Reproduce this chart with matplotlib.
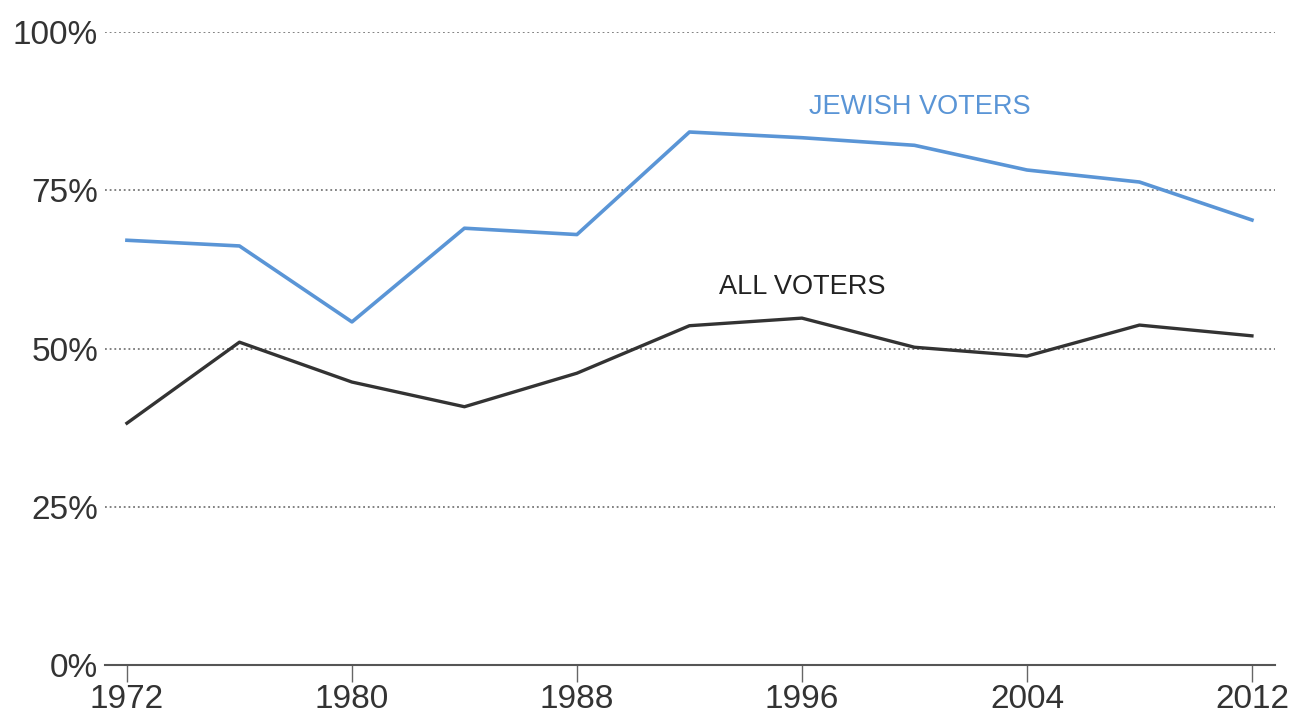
import matplotlib.pyplot as plt

years = [1972, 1976, 1980, 1984, 1988, 1992, 1996, 2000, 2004, 2008, 2012]
jewish_voters = [67.1, 66.2, 54.2, 69.0, 68.0, 84.2, 83.3, 82.1, 78.2, 76.3, 70.3]
all_voters = [38.2, 51.0, 44.7, 40.8, 46.1, 53.6, 54.8, 50.2, 48.8, 53.7, 52.0]
x_ticks = [1972, 1980, 1988, 1996, 2004, 2012]
y_ticks = [0, 25, 50, 75, 100]

plt.rcParams['font.family'] = ['Liberation Sans', 'DejaVu Sans']

fig = plt.figure(figsize=(12.96, 7.15), dpi=100)
ax = fig.add_axes([105 / 1296, 1 - 665 / 715, 1170 / 1296, 633 / 715])

for y in y_ticks[1:]:
    ax.axhline(y, color='#777777', linestyle=(0, (1, 1.6)), linewidth=1.3, zorder=1)

ax.plot(years, jewish_voters, color='#5a95d6', linewidth=2.6, zorder=3)
ax.plot(years, all_voters, color='#333333', linewidth=2.4, zorder=3)

ax.text(2000.2, 88.2, 'JEWISH VOTERS', color='#5a95d6', fontsize=19.5,
        ha='center', va='center')
ax.text(1996.0, 59.7, 'ALL VOTERS', color='#222222', fontsize=19.5,
        ha='center', va='center')

ax.set_xlim(1971.22, 2012.82)
ax.set_ylim(0, 100)
ax.set_xticks(x_ticks)
ax.set_yticks(y_ticks)
ax.set_yticklabels([f'{v}%' for v in y_ticks])

for side in ['top', 'right', 'left']:
    ax.spines[side].set_visible(False)
ax.spines['bottom'].set_color('#555555')
ax.spines['bottom'].set_linewidth(1.5)
ax.tick_params(axis='x', direction='out', length=12, width=1.0, color='#666666',
               labelsize=24, labelcolor='#333333', pad=2)
ax.tick_params(axis='y', length=0, labelsize=24, labelcolor='#333333', pad=5)

fig.savefig('out.png', dpi=100, facecolor='white')
